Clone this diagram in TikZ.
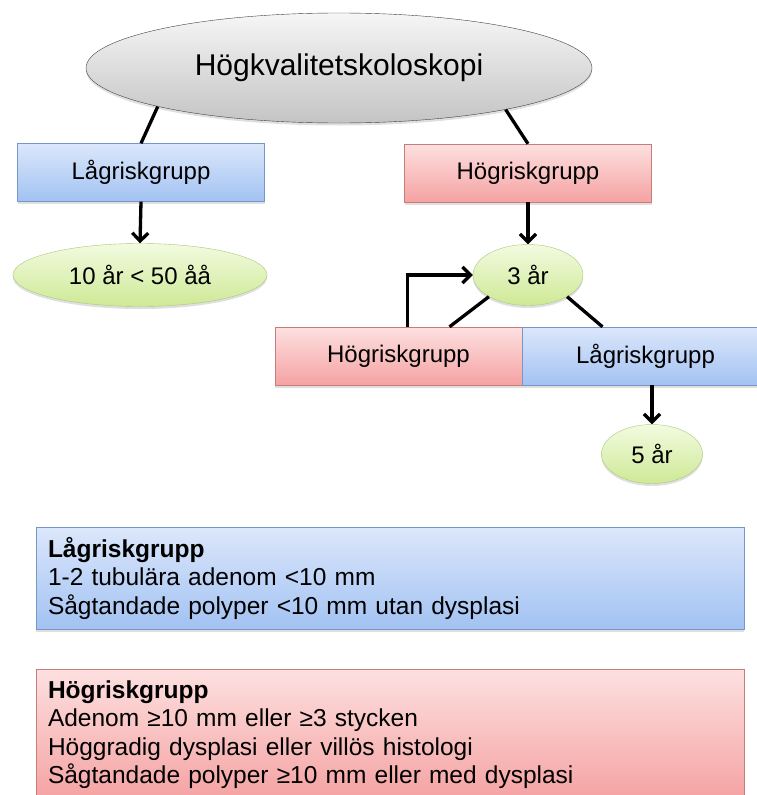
\documentclass[tikz,border=0pt]{standalone}
\usepackage{fontspec}
\setmainfont{Liberation Sans}
\usepackage{tikz}
\usetikzlibrary{calc,shapes.geometric,shadows,arrows.meta}

\definecolor{lowtop}{RGB}{220,231,251}
\definecolor{lowbot}{RGB}{162,194,242}
\definecolor{lowline}{RGB}{120,150,200}
\definecolor{hightop}{RGB}{253,224,224}
\definecolor{highbot}{RGB}{245,162,162}
\definecolor{highline}{RGB}{200,125,125}
\definecolor{greentop}{RGB}{242,251,224}
\definecolor{greenbot}{RGB}{206,233,150}
\definecolor{greenline}{RGB}{170,200,120}
\definecolor{graytop}{RGB}{246,246,246}
\definecolor{graybot}{RGB}{196,196,196}

\begin{document}
\begin{tikzpicture}[x=1pt,y=-1pt,
    softshadow/.style={drop shadow={shadow xshift=0pt,shadow yshift=-2.5pt,opacity=0.25}},
    lowbox/.style={draw=lowline,top color=lowtop,bottom color=lowbot,softshadow,
      minimum width=247pt,minimum height=58pt,inner sep=0pt,font=\fontsize{24}{28}\selectfont},
    highbox/.style={draw=highline,top color=hightop,bottom color=highbot,softshadow,
      minimum width=247pt,minimum height=58pt,inner sep=0pt,font=\fontsize{24}{28}\selectfont},
    greenoval/.style={ellipse,draw=greenline,top color=greentop,bottom color=greenbot,softshadow,
      inner sep=0pt,font=\fontsize{24}{28}\selectfont},
    link/.style={line width=3.3pt},
    arrowlink/.style={line width=3.3pt,-{Straight Barb[length=8pt,width=16pt]}},
    keylow/.style={draw=lowline,top color=lowtop,bottom color=lowbot,softshadow,
      minimum width=708pt,text width=684pt,inner xsep=12pt,align=left,
      font=\fontsize{24.5}{28.5}\selectfont},
    keyhigh/.style={draw=highline,top color=hightop,bottom color=highbot,softshadow,
      minimum width=708pt,text width=684pt,inner xsep=12pt,align=left,
      font=\fontsize{24.5}{28.5}\selectfont}]

  \useasboundingbox (0,0) rectangle (757,795);
  \clip (0,0) rectangle (757,795);

  % tree
  \node[ellipse,draw=black!75,top color=graytop,bottom color=graybot,softshadow,
    minimum width=506pt,minimum height=110pt,font=\fontsize{30}{36}\selectfont] (top) at (339,68) {Högkvalitetskoloskopi};

  \node[lowbox] (low) at (141,172.5) {Lågriskgrupp};
  \node[highbox] (high) at (528,173) {Högriskgrupp};

  \node[greenoval,minimum width=254pt,minimum height=63pt] (tenyr) at (140,275) {10 år < 50 åå};
  \node[greenoval,minimum width=110pt,minimum height=61pt] (threeyr) at (528,275) {3 år};

  \node[highbox] (high2) at (398.5,356) {Högriskgrupp};
  \node[lowbox] (low2) at (645.5,356) {Lågriskgrupp};

  \node[greenoval,minimum width=101pt,minimum height=59pt] (fiveyr) at (652,454) {5 år};

  \draw[link] (top.192) -- (low.north);
  \draw[link] (top.346) -- (high.north);
  \draw[arrowlink] (low.south) -- (tenyr.north);
  \draw[arrowlink] (high.south) -- (threeyr.north);

  \draw[link] (threeyr.209) -- ($(high2.north)+(51,0)$);
  \draw[link] (threeyr.331) -- ($(low2.north)+(-43,0)$);
  \draw[arrowlink] ($(high2.north)+(9,0)$) |- (threeyr.west);
  \draw[arrowlink] (fiveyr.north |- low2.south) -- (fiveyr.north);

  % key
  \node[keylow,minimum height=102pt] (lowkey) at (390,578)
    {\textbf{Lågriskgrupp}\\1-2 tubulära adenom <10 mm\\Sågtandade polyper <10 mm utan dysplasi};
  \node[keyhigh,minimum height=131pt] (highkey) at (390,734.5)
    {\textbf{Högriskgrupp}\\Adenom ≥10 mm eller ≥3 stycken\\Höggradig dysplasi eller villös histologi\\Sågtandade polyper ≥10 mm eller med dysplasi};

\end{tikzpicture}
\end{document}
